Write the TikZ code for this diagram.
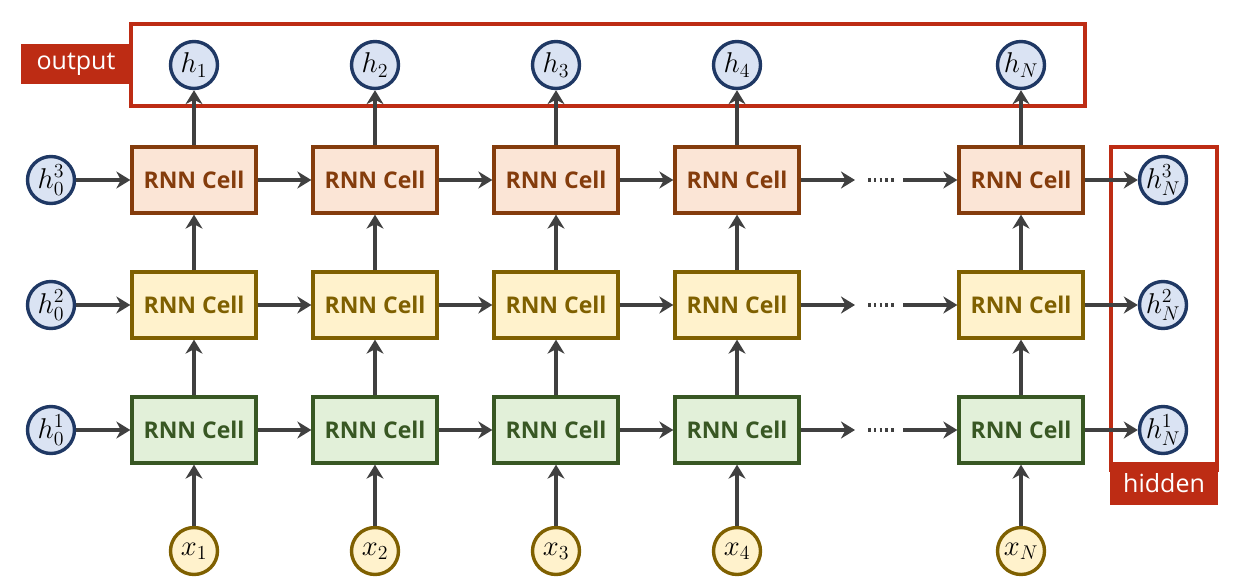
\documentclass[tikz,border=0pt]{standalone}
\usepackage{graphicx}
\usepackage{fontspec}
\setsansfont{Open Sans}
\usetikzlibrary{arrows.meta}
\definecolor{c3fill}{HTML}{FBE5D6}
\definecolor{c3draw}{HTML}{843C0C}
\definecolor{c2fill}{HTML}{FFF2CC}
\definecolor{c2draw}{HTML}{7F6000}
\definecolor{c1fill}{HTML}{E2F0D9}
\definecolor{c1draw}{HTML}{385723}
\definecolor{hfill}{HTML}{DAE3F3}
\definecolor{hdraw}{HTML}{1F3864}
\definecolor{redc}{HTML}{BD2C14}
\definecolor{arrgray}{HTML}{404040}
\newcommand{\mlab}[1]{\scalebox{1.38}{$#1$}}
\begin{document}
\begin{tikzpicture}[x=1pt,y=-1pt,
  cell/.style={draw, line width=3.3pt, minimum width=124pt, minimum height=66pt, inner sep=0pt,
    font=\sffamily\bfseries\fontsize{23}{27}\selectfont},
  lay3/.style={cell, fill=c3fill, draw=c3draw, text=c3draw},
  lay2/.style={cell, fill=c2fill, draw=c2draw, text=c2draw},
  lay1/.style={cell, fill=c1fill, draw=c1draw, text=c1draw},
  hcirc/.style={circle, draw=hdraw, fill=hfill, line width=3.4pt, minimum size=47pt, inner sep=0pt,
    font=\fontsize{20.74}{25}\selectfont},
  xcirc/.style={circle, draw=c2draw, fill=c2fill, line width=3.4pt, minimum size=47pt, inner sep=0pt,
    font=\fontsize{20.74}{25}\selectfont},
  arr/.style={draw=arrgray, line width=3.4pt, -{Stealth[length=14pt,width=17pt,inset=4.5pt]}},
  dotline/.style={draw=arrgray, line width=3.2pt, dash pattern=on 2.6pt off 3.2pt},
  tag/.style={fill=redc, text=white, inner sep=0pt, font=\sffamily\fontsize{25}{29}\selectfont}
]
\useasboundingbox (0,0) rectangle (1241,586);

% frames
\draw[redc, line width=3.2pt] (131,24) rectangle (1085,106);
\node[tag, minimum width=110pt, minimum height=40pt] (outtag) at (76,64) {output};
\draw[redc, line width=3.2pt] (1111,147) rectangle (1217,470);
\node[tag, minimum width=108pt, minimum height=43pt] (hidtag) at (1164,483.5) {hidden};

% cells, inputs, outputs
\foreach \i/\x/\l in {1/194/1,2/375/2,3/556/3,4/737/4,5/1021/N} {
  \node[lay3] (c3-\i) at (\x,180) {RNN Cell};
  \node[lay2] (c2-\i) at (\x,305) {RNN Cell};
  \node[lay1] (c1-\i) at (\x,430) {RNN Cell};
  \node[xcirc] (x-\i) at (\x,551) {\mlab{x_{\l}}};
  \node[hcirc] (o-\i) at (\x,65) {\mlab{h_{\l}}};
  \draw[arr] (x-\i) -- (c1-\i);
  \draw[arr] (c1-\i) -- (c2-\i);
  \draw[arr] (c2-\i) -- (c3-\i);
  \draw[arr] (c3-\i) -- (o-\i);
}

% initial and final hidden states, horizontal connectors
\foreach \r/\y in {3/180,2/305,1/430} {
  \node[hcirc] (h0-\r) at (51,\y) {\mlab{h_0^{\r}}};
  \node[hcirc] (hN-\r) at (1163,\y) {\mlab{h_N^{\r}}};
  \coordinate (da-\r) at (855,\y);
  \coordinate (db-\r) at (903,\y);
  \coordinate (ds-\r) at (868,\y);
  \coordinate (de-\r) at (896,\y);
  \draw[arr] (h0-\r) -- (c\r-1);
  \draw[arr] (c\r-1) -- (c\r-2);
  \draw[arr] (c\r-2) -- (c\r-3);
  \draw[arr] (c\r-3) -- (c\r-4);
  \draw[arr] (c\r-4) -- (da-\r);
  \draw[dotline] (ds-\r) -- (de-\r);
  \draw[arr] (db-\r) -- (c\r-5);
  \draw[arr] (c\r-5) -- (hN-\r);
}
\end{tikzpicture}
\end{document}
